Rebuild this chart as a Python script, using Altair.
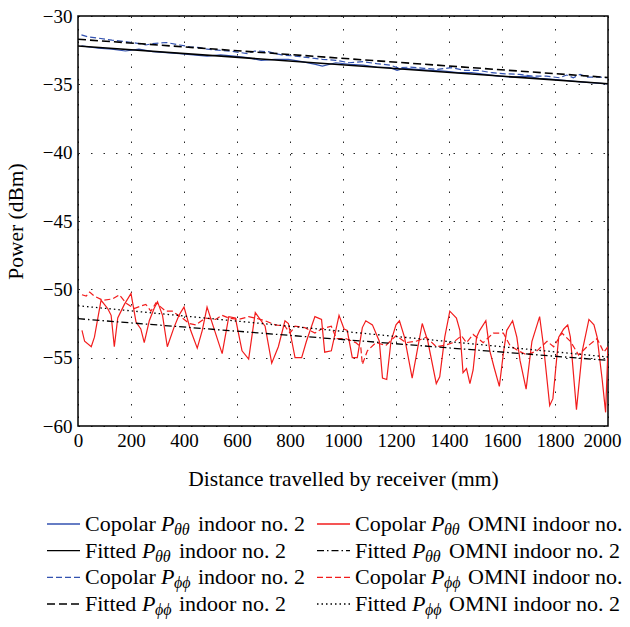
import altair as alt
import pandas as pd

SERIF = "Liberation Serif"

# ---------------- data ----------------
x_ticks = [0, 200, 400, 600, 800, 1000, 1200, 1400, 1600, 1800, 2000]
y_ticks = [-60, -55, -50, -45, -40, -35, -30]

# Copolar P_theta_theta indoor no. 2 (blue solid)
bs_x = [13, 77, 128, 179, 230, 282, 333, 384, 435, 487, 538, 589, 640, 691, 743, 794,
        845, 896, 922, 973, 1024, 1076, 1127, 1178, 1204, 1229, 1280, 1332, 1383, 1434,
        1485, 1536, 1588, 1639, 1690, 1741, 1793, 1844, 1895, 1946, 1997]
bs_y = [-32.19, -32.36, -32.43, -32.56, -32.43, -32.61, -32.68, -32.75, -32.85, -32.93,
        -32.85, -32.93, -33.05, -33.24, -33.17, -33.17, -33.34, -33.54, -33.66, -33.42,
        -33.54, -33.59, -33.74, -33.78, -33.98, -33.83, -33.91, -33.98, -34.03, -34.15,
        -34.15, -34.27, -34.40, -34.47, -34.40, -34.57, -34.64, -34.72, -34.82, -34.89,
        -34.96]

# Copolar P_phi_phi indoor no. 2 (blue dashed)
bd_x = [13, 38, 77, 128, 179, 230, 256, 282, 333, 384, 423, 461, 487, 538, 589, 640,
        666, 717, 768, 819, 871, 922, 973, 1024, 1076, 1127, 1178, 1204, 1255, 1306,
        1357, 1408, 1460, 1511, 1562, 1613, 1665, 1716, 1767, 1818, 1844, 1869, 1895,
        1921, 1972, 1997]
bd_y = [-31.38, -31.53, -31.62, -31.77, -31.87, -32.02, -32.12, -32.02, -31.94, -32.12,
        -32.26, -32.31, -32.43, -32.51, -32.61, -32.75, -32.56, -32.61, -32.85, -32.93,
        -33.05, -33.17, -33.24, -33.42, -33.34, -33.49, -33.59, -33.78, -33.74, -33.83,
        -33.91, -33.78, -33.98, -33.98, -34.15, -34.23, -34.27, -34.40, -34.40, -34.52,
        -34.32, -34.52, -34.27, -34.47, -34.47, -34.52]

# Fitted lines (end points)
fit_x = [0, 2000]
fit_tt_indoor = [-32.19, -34.96]
fit_pp_indoor = [-31.7, -34.5]
fit_tt_omni = [-52.15, -55.2]
fit_pp_omni = [-51.2, -54.95]

# Copolar P_theta_theta OMNI indoor no. 2 (red solid)
rs_x = [15, 25, 50, 62, 87, 112, 125, 137, 150, 175, 200, 219, 237, 250, 269, 287, 300,
        319, 337, 362, 381, 400, 425, 450, 469, 487, 512, 544, 569, 594, 619, 644, 669,
        706, 731, 756, 781, 794, 819, 844, 862, 894, 919, 931, 956, 985, 1004, 1016, 1035,
        1054, 1073, 1086, 1111, 1137, 1149, 1165, 1181, 1200, 1213, 1232, 1261, 1278,
        1299, 1320, 1352, 1365, 1384, 1403, 1428, 1441, 1453, 1466, 1479, 1491, 1504,
        1516, 1539, 1554, 1570, 1590, 1605, 1618, 1640, 1656, 1668, 1691, 1713, 1742,
        1757, 1780, 1792, 1814, 1833, 1848, 1858, 1881, 1903, 1928, 1947, 1959, 1978,
        1991, 2000]
rs_y = [-53.0, -53.8, -54.2, -53.5, -50.8, -51.4, -51.9, -54.2, -52.1, -51.1, -50.3,
        -52.4, -52.9, -53.9, -52.3, -51.4, -50.9, -51.9, -54.2, -52.8, -51.9, -51.3,
        -53.0, -54.3, -53.0, -51.3, -52.8, -54.7, -52.0, -52.1, -54.5, -55.1, -51.7,
        -52.7, -55.4, -54.2, -52.3, -52.5, -55.0, -55.0, -53.8, -52.0, -52.2, -54.6,
        -54.5, -51.9, -52.9, -53.0, -55.0, -55.0, -52.8, -52.3, -52.6, -53.8, -56.5,
        -56.6, -53.8, -52.6, -52.3, -53.5, -56.5, -54.7, -52.5, -53.8, -56.9, -56.4,
        -53.5, -51.6, -52.1, -53.0, -56.1, -55.8, -56.9, -55.9, -53.5, -53.0, -52.3,
        -54.5, -55.7, -57.1, -54.7, -53.0, -52.3, -53.5, -55.2, -57.3, -53.8, -52.0,
        -54.2, -58.5, -58.0, -53.5, -52.9, -52.6, -53.5, -58.8, -54.5, -52.2, -52.6,
        -53.5, -56.6, -59.0, -54.3]

# Copolar P_phi_phi OMNI indoor no. 2 (red dashed)
rd_x = [15, 31, 44, 62, 94, 131, 156, 181, 212, 256, 275, 294, 331, 356, 394, 419, 444,
        481, 519, 544, 569, 606, 644, 669, 706, 744, 781, 800, 819, 856, 894, 919, 956,
        975, 1010, 1048, 1067, 1073, 1092, 1124, 1162, 1200, 1238, 1276, 1314, 1352,
        1384, 1415, 1447, 1466, 1491, 1529, 1567, 1605, 1630, 1662, 1694, 1732, 1770,
        1795, 1826, 1858, 1889, 1921, 1959, 1984, 2000]
rd_y = [-50.4, -50.5, -50.2, -50.5, -50.8, -50.7, -50.4, -51.0, -51.4, -51.1, -51.6,
        -51.0, -51.6, -51.6, -52.1, -52.5, -52.6, -52.1, -52.2, -51.9, -52.1, -52.2,
        -52.0, -52.1, -52.3, -52.6, -52.7, -53.2, -52.7, -52.8, -53.2, -52.9, -52.7,
        -53.6, -53.6, -53.9, -54.2, -55.5, -54.5, -53.9, -54.1, -53.4, -53.9, -53.8,
        -53.5, -54.2, -54.1, -53.9, -53.4, -53.9, -53.3, -53.9, -53.2, -53.2, -54.1,
        -54.5, -54.8, -54.5, -53.8, -54.2, -53.2, -53.8, -54.8, -54.2, -53.6, -54.6,
        -54.2]

# legend entries
leg_col = [0, 0, 0, 0, 1, 1, 1, 1]
leg_row = [0, 1, 2, 3, 0, 1, 2, 3]
leg_prefix = ["Copolar", "Fitted", "Copolar", "Fitted", "Copolar", "Fitted", "Copolar", "Fitted"]
leg_sub = ["θθ", "θθ", "ϕϕ", "ϕϕ", "θθ", "θθ", "ϕϕ", "ϕϕ"]
leg_suffix = ["indoor no. 2"] * 4 + ["OMNI indoor no. 2"] * 4

BLUE = "#3352b0"
RED = "#f21c1c"
BLACK = "#000000"

styles = [
    (BLUE, None, 1.2),
    (BLACK, None, 1.6),
    (BLUE, [6, 3], 1.2),
    (BLACK, [8, 4], 1.6),
    (RED, None, 1.2),
    (BLACK, [7, 3, 1.5, 3], 1.3),
    (RED, [6, 3], 1.2),
    (BLACK, [1.5, 3], 1.3),
]

series = [
    (rs_x, rs_y, 4),
    (rd_x, rd_y, 6),
    (fit_x, fit_tt_omni, 5),
    (fit_x, fit_pp_omni, 7),
    (bs_x, bs_y, 0),
    (bd_x, bd_y, 2),
    (fit_x, fit_tt_indoor, 1),
    (fit_x, fit_pp_indoor, 3),
]

X = alt.X("x:Q", scale=alt.Scale(domain=[0, 2000], nice=False, zero=False),
          axis=alt.Axis(values=x_ticks, title="Distance travelled by receiver (mm)",
                        labelPadding=5, titlePadding=18, format="d",
                        labelOffset={"condition": {"test": "datum.value == 2000", "value": -6},
                                     "value": 0}))
Y = alt.Y("y:Q", scale=alt.Scale(domain=[-60, -30], nice=False, zero=False),
          axis=alt.Axis(values=y_ticks, title="Power (dBm)", labelPadding=6,
                        titlePadding=15, format="d"))

data_layers = []
for xs, ys, si in series:
    color, dash, sw = styles[si]
    kw = dict(color=color, strokeWidth=sw, clip=True)
    if dash is not None:
        kw["strokeDash"] = dash
    df = pd.DataFrame({"x": xs, "y": ys})
    data_layers.append(alt.Chart(df).mark_line(**kw).encode(x=X, y=Y))

main = alt.layer(*data_layers)

# ---------------- legend ----------------
leg_df = pd.DataFrame({"col": leg_col, "row": leg_row, "prefix": leg_prefix,
                       "sub": leg_sub, "suffix": leg_suffix,
                       "idx": list(range(8))})
LX_SCALE = alt.Scale(domain=[0, 1], range=[7, 277], zero=False, nice=False)
LY_SCALE = alt.Scale(domain=[0, 3], range=[508, 588], zero=False, nice=False)
LY = alt.Y("row:Q", scale=LY_SCALE, axis=None)

leg_layers = []
for i in range(8):
    color, dash, sw = styles[i]
    kw = dict(color=color, strokeWidth=1.3)
    if dash is not None:
        kw["strokeDash"] = dash
    leg_layers.append(
        alt.Chart(leg_df)
        .transform_filter(alt.datum.idx == i)
        .transform_calculate(x0="datum.col - 38/270", x1="datum.col - 5/270")
        .mark_rule(**kw)
        .encode(x=alt.X("x0:Q", scale=LX_SCALE, axis=None), x2="x1:Q", y=LY)
    )

LXT = alt.X("col:Q", scale=LX_SCALE, axis=None)
base_txt = dict(align="left", baseline="middle", font=SERIF, color="black")
leg_layers.append(alt.Chart(leg_df).mark_text(fontSize=22, **base_txt)
                  .encode(x=LXT, y=LY, text="prefix:N"))
for pref, pdx in [("Copolar", 76), ("Fitted", 57)]:
    sub_df = alt.Chart(leg_df).transform_filter(alt.datum.prefix == pref)
    leg_layers.append(sub_df.mark_text(fontSize=22, fontStyle="italic", dx=pdx, **base_txt)
                      .encode(x=LXT, y=LY, text=alt.value("P")))
    leg_layers.append(sub_df.mark_text(fontSize=16, fontStyle="italic", dx=pdx + 13, dy=6,
                                       **base_txt)
                      .encode(x=LXT, y=LY, text="sub:N"))
    leg_layers.append(sub_df.mark_text(fontSize=22, dx=pdx + 37, **base_txt)
                      .encode(x=LXT, y=LY, text="suffix:N"))

legend = alt.layer(*leg_layers)

chart = (
    alt.layer(main, legend)
    .resolve_scale(x="independent", y="independent")
    .properties(width=530, height=410,
                autosize=alt.AutoSizeParams(type="none"),
                padding={"left": 70, "top": 8, "right": 14, "bottom": 193})
    .configure_view(stroke="black", strokeWidth=1.5)
    .configure_axis(labelFont=SERIF, labelFontSize=19, labelColor="black",
                    titleFont=SERIF, titleFontSize=21.5, titleFontWeight="normal",
                    titleColor="black", ticks=False, domain=False,
                    gridColor="black", gridDash=[1.5, 11], gridOpacity=0.85,
                    gridWidth=1, labelFlush=False, labelOverlap=False)
)

chart.save("out.html", embed_options={"renderer": "svg", "actions": False})
